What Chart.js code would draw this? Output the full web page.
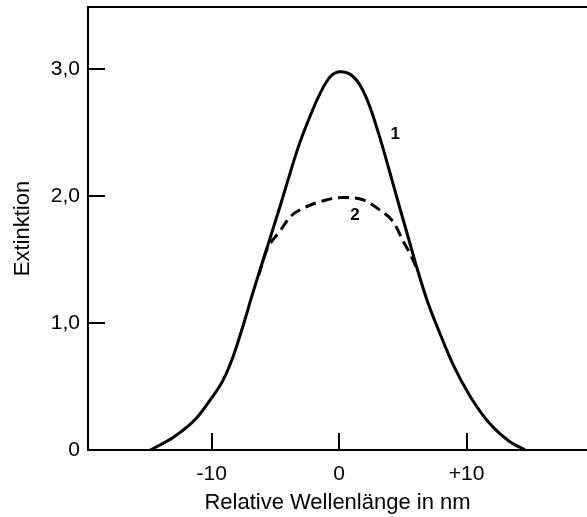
<!DOCTYPE html>
<html>
<head>
<meta charset="utf-8">
<script src="https://cdn.jsdelivr.net/npm/chart.js@4/dist/chart.umd.min.js"></script>
<style>
  html, body { margin: 0; padding: 0; background: #fff; }
  #wrap { width: 587px; height: 517px; }
</style>
</head>
<body>
<div id="wrap"><canvas id="extChart" width="587" height="517"></canvas></div>
<script>
// curve 1 (solid)
var wave1 = [-14.8, -13.0, -11.2, -10.0, -9.1, -8.3, -7.5, -6.85, -6.2, -5.6, -4.63, -3.97, -3.19, -2.4, -1.49, -0.7, 0.08, 1.0, 1.78, 2.43, 3.08, 3.92, 4.67, 5.41, 6.15, 6.9, 7.9, 9.0, 10.3, 11.8, 13.4, 14.6];
var ext1 = [0, 0.1, 0.25, 0.41, 0.55, 0.74, 0.99, 1.21, 1.42, 1.61, 1.92, 2.14, 2.39, 2.60, 2.81, 2.94, 2.98, 2.95, 2.85, 2.70, 2.50, 2.21, 1.94, 1.68, 1.42, 1.18, 0.92, 0.66, 0.42, 0.21, 0.065, 0];

// curve 2 (dashed)
var wave2 = [-6.3, -5.7, -4.6, -3.8, -2.7, -1.0, 0.3, 1.9, 3.2, 4.3, 5.0, 5.7, 6.2];
var ext2 = [1.38, 1.57, 1.73, 1.84, 1.91, 1.97, 1.99, 1.97, 1.89, 1.79, 1.65, 1.52, 1.40];

// axis ticks
var xTicks = [-10, 0, 10];
var xLabels = ['-10', '0', '+10'];
var yTicks = [0, 1, 2, 3];
var yLabels = ['0', '1,0', '2,0', '3,0'];

// curve numbers
var curveNames = ['1', '2'];
var nameX = [4.4, 1.25];
var nameY = [2.49, 1.85];

var FONT = "'Liberation Sans', Arial, sans-serif";

function points(xs, ys) {
    return xs.map(function (v, i) { return { x: v, y: ys[i] }; });
}

var frame = {
    id: 'frame',
    afterDraw: function (chart) {
        var ctx = chart.ctx, a = chart.chartArea;
        var x = chart.scales.x, y = chart.scales.y;
        ctx.save();
        ctx.strokeStyle = '#000';
        ctx.lineWidth = 2;
        ctx.beginPath();
        ctx.moveTo(a.left, a.top);
        ctx.lineTo(a.right, a.top);
        // inward tick marks
        xTicks.forEach(function (v) {
            var px = Math.round(x.getPixelForValue(v));
            ctx.moveTo(px, a.bottom);
            ctx.lineTo(px, a.bottom - 17);
        });
        yTicks.forEach(function (v) {
            if (v === 0) return;
            var py = Math.round(y.getPixelForValue(v));
            ctx.moveTo(a.left, py);
            ctx.lineTo(a.left + 17, py);
        });
        ctx.stroke();
        ctx.fillStyle = '#000';
        ctx.font = 'bold 17px ' + FONT;
        ctx.textAlign = 'center';
        ctx.textBaseline = 'middle';
        curveNames.forEach(function (t, i) {
            ctx.fillText(t, x.getPixelForValue(nameX[i]), y.getPixelForValue(nameY[i]));
        });
        ctx.restore();
    }
};

var ctx = document.getElementById('extChart').getContext('2d');
var chart = new Chart(ctx, {
    type: 'line',
    data: {
        datasets: [{
            label: '1',
            data: points(wave1, ext1),
            borderColor: '#000',
            borderWidth: 3,
            pointRadius: 0,
            cubicInterpolationMode: 'monotone',
            fill: false
        },
        {
            label: '2',
            data: points(wave2, ext2),
            borderColor: '#000',
            borderWidth: 3,
            borderDash: [11, 6],
            pointRadius: 0,
            cubicInterpolationMode: 'monotone',
            fill: false
        }]
    },
    options: {
        responsive: false,
        animation: false,
        layout: { padding: { top: 7, right: 0, left: 0, bottom: 0 } },
        plugins: { legend: { display: false }, tooltip: { enabled: false } },
        scales: {
            x: {
                type: 'linear',
                min: -19.7,
                max: 19.45,
                grid: { display: false, drawTicks: false },
                border: { display: true, color: '#000', width: 2 },
                afterBuildTicks: function (s) { s.ticks = xTicks.map(function (v) { return { value: v }; }); },
                afterFit: function (s) { s.height = 67; s.paddingLeft = 0; s.paddingRight = 0; },
                ticks: {
                    color: '#000',
                    padding: 12,
                    maxRotation: 0,
                    font: { family: FONT, size: 21 },
                    callback: function (v) { return xLabels[xTicks.indexOf(v)]; }
                },
                title: {
                    display: true,
                    text: 'Relative Wellenlänge in nm',
                    color: '#000',
                    padding: { top: 0, bottom: 1 },
                    font: { family: FONT, size: 22 }
                }
            },
            y: {
                min: 0,
                max: 3.49,
                grid: { display: false, drawTicks: false },
                border: { display: true, color: '#000', width: 2 },
                afterBuildTicks: function (s) { s.ticks = yTicks.map(function (v) { return { value: v }; }); },
                afterFit: function (s) { s.width = 88; s.paddingTop = 0; s.paddingBottom = 0; },
                ticks: {
                    color: '#000',
                    padding: 8,
                    font: { family: FONT, size: 21 },
                    callback: function (v) { return yLabels[yTicks.indexOf(v)]; }
                },
                title: {
                    display: true,
                    text: 'Extinktion',
                    color: '#000',
                    padding: { top: 10, bottom: 0 },
                    font: { family: FONT, size: 22 }
                }
            }
        }
    },
    plugins: [frame]
});
</script>
</body>
</html>
